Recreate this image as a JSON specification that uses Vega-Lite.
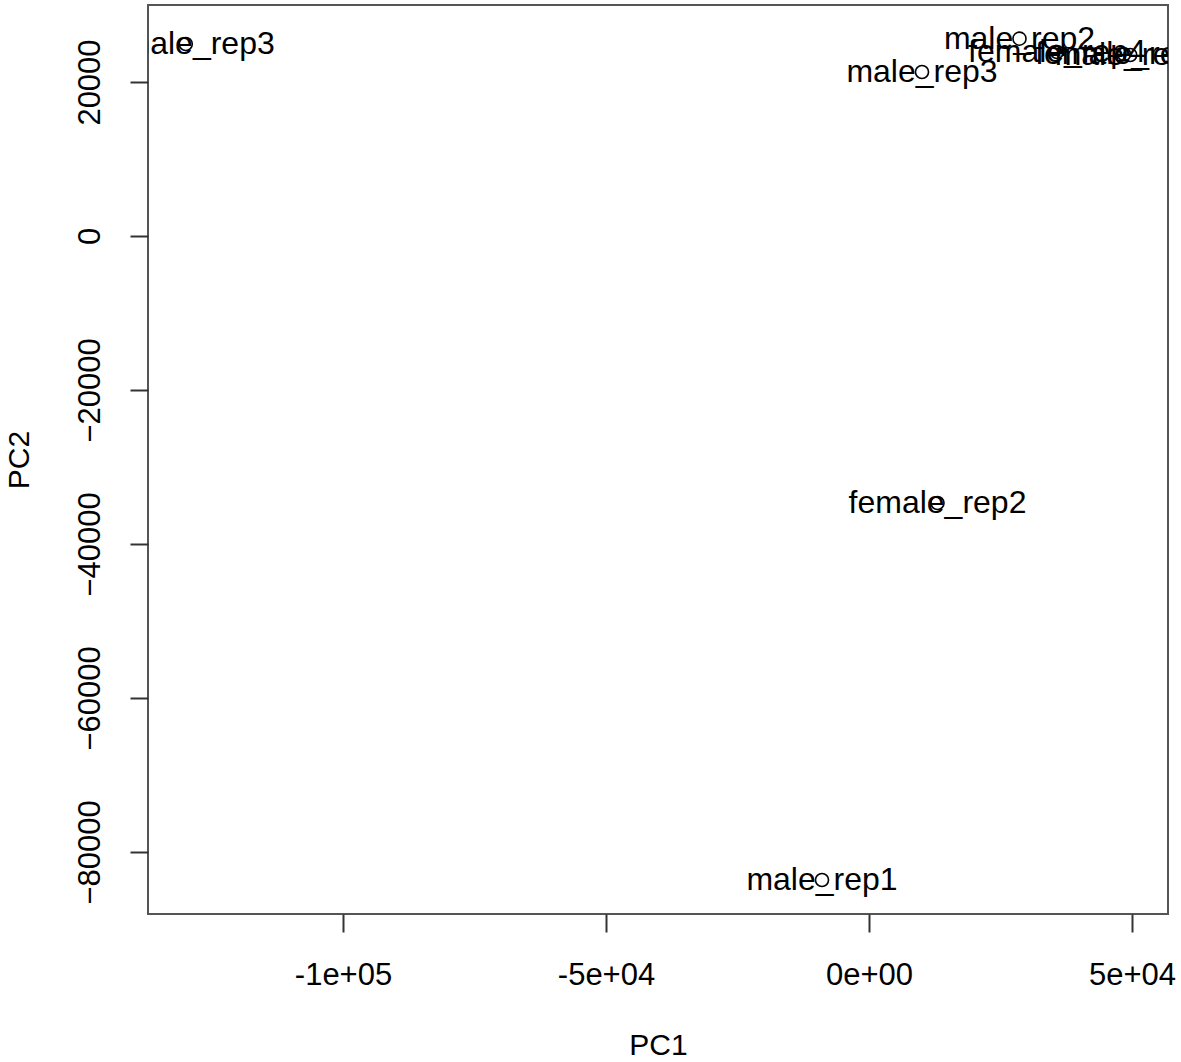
{
  "$schema": "https://vega.github.io/schema/vega-lite/v6.json",
  "width": 1020,
  "height": 909,
  "autosize": {"type": "none"},
  "padding": {"left": 148, "top": 5, "right": 13, "bottom": 148},
  "background": "white",
  "config": {
    "view": {"stroke": "#555", "strokeWidth": 2},
    "axis": {"grid": false, "domain": false, "labelFont": "Liberation Sans", "titleFont": "Liberation Sans", "labelFontSize": 31, "titleFontSize": 30, "titleFontWeight": "normal", "labelColor": "black", "titleColor": "black", "tickColor": "#333", "tickWidth": 2}
  },
  "data": {"values": [
    {"sample": "female_rep3", "PC1": -129890, "PC2": 24935},
    {"sample": "male_rep2", "PC1": 28612, "PC2": 25628},
    {"sample": "male_rep3", "PC1": 10076, "PC2": 21300},
    {"sample": "female_rep4", "PC1": 35741, "PC2": 23900},
    {"sample": "female_rep1", "PC1": 48500, "PC2": 23600},
    {"sample": "male_rep4", "PC1": 49662, "PC2": 23500},
    {"sample": "female_rep2", "PC1": 13023, "PC2": -34675},
    {"sample": "male_rep1", "PC1": -8935, "PC2": -83636}
  ]},
  "encoding": {
    "x": {"field": "PC1", "type": "quantitative", "scale": {"domain": [-137072, 56844], "nice": false, "zero": false},
      "axis": {"values": [-100000, -50000, 0, 50000], "labelExpr": "datum.value == -100000 ? '-1e+05' : datum.value == -50000 ? '-5e+04' : datum.value == 0 ? '0e+00' : '5e+04'", "tickSize": 18, "labelPadding": 28, "labelBaseline": "top", "title": "PC1", "titlePadding": 40, "labelFlush": false, "labelOverlap": false}},
    "y": {"field": "PC2", "type": "quantitative", "scale": {"domain": [-88052, 30000], "nice": false, "zero": false},
      "axis": {"values": [-80000, -60000, -40000, -20000, 0, 20000], "format": "d", "tickSize": 18, "labelAngle": -90, "labelAlign": "center", "labelBaseline": "bottom", "labelPadding": 24, "title": "PC2", "titlePadding": 40, "labelFlush": false, "labelOverlap": false}}
  },
  "layer": [
    {"mark": {"type": "point", "shape": "circle", "filled": false, "stroke": "black", "strokeWidth": 1.6, "size": 170, "opacity": 1, "clip": true}},
    {"mark": {"type": "text", "font": "Liberation Sans", "fontSize": 32, "color": "black", "align": "center", "baseline": "middle", "clip": true},
      "encoding": {"text": {"field": "sample"}}}
  ]
}
